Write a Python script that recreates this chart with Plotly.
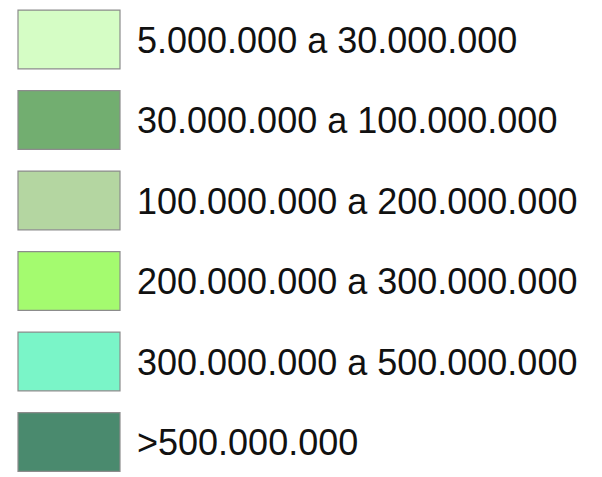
import plotly.graph_objects as go

# legend classes (population ranges) and their fill colours
labels = [
    "5.000.000 a 30.000.000",
    "30.000.000 a 100.000.000",
    "100.000.000 a 200.000.000",
    "200.000.000 a 300.000.000",
    "300.000.000 a 500.000.000",
    ">500.000.000",
]
colors = ["#d5fdc5", "#72ae70", "#b4d6a1", "#a4fb6f", "#7af5c8", "#4a8a6e"]
box_len = [102] * len(labels)

fig = go.Figure()

# swatches as horizontal bars
fig.add_trace(go.Bar(
    y=labels, x=box_len, base=18, orientation="h",
    marker=dict(color=colors, line=dict(color="#8c8c8c", width=1.2)),
    width=0.73, showlegend=False, hoverinfo="skip",
))

# class labels (on a twin axis nudged a few px down to sit like the original)
fig.add_trace(go.Scatter(
    y=labels, x=[137] * len(labels), mode="text", text=labels,
    textposition="middle right", yaxis="y2",
    textfont=dict(family="Liberation Sans, Arial", size=36, color="#111111"),
    showlegend=False, hoverinfo="skip",
))

# page body has an 8px margin, so the figure is shrunk and the ranges shifted
fig.update_layout(
    width=594, height=469,
    margin=dict(l=0, r=0, t=0, b=0),
    paper_bgcolor="white", plot_bgcolor="white",
    xaxis=dict(range=[8, 602], visible=False, fixedrange=True),
    yaxis=dict(type="category", categoryorder="array", categoryarray=labels,
               range=[5.435, -0.391], visible=False, fixedrange=True),
    yaxis2=dict(type="category", categoryorder="array", categoryarray=labels,
                range=[5.38, -0.446], visible=False, fixedrange=True,
                overlaying="y"),
)

fig.write_html("out.html")
